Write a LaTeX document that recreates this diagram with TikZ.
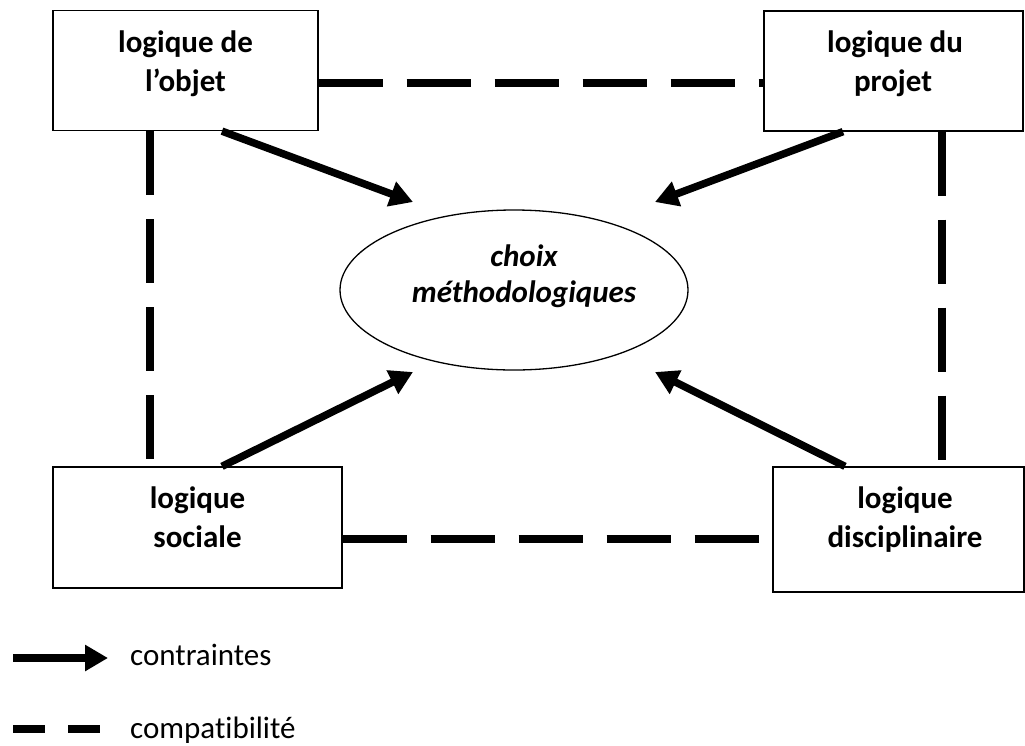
\documentclass[tikz,border=0pt]{standalone}
\usepackage{fontspec}
\setmainfont{Carlito}[Ligatures=NoCommon]
\usetikzlibrary{arrows.meta,shapes.geometric,calc}
\tikzset{
  box/.style={draw, line width=1.3pt, rectangle, inner sep=0pt},
  oval/.style={draw, line width=1.3pt, ellipse, inner sep=0pt, minimum width=348pt, minimum height=160pt},
  lbl/.style={anchor=base, inner sep=0pt, font=\fontsize{31}{37}\selectfont\bfseries},
  ilbl/.style={anchor=base, inner sep=0pt, font=\fontsize{31}{37}\selectfont\bfseries\itshape},
  leg/.style={anchor=base west, inner sep=0pt, font=\fontsize{31}{37}\selectfont},
  compat/.style={line width=7.5pt, dash pattern=on 64pt off 24pt},
  contr/.style={line width=7.5pt, -{Triangle[length=23pt,width=25pt]}}
}
\begin{document}
\begin{tikzpicture}[x=1pt,y=-1pt]
\useasboundingbox (0,0) rectangle (1025,745);
% boxes
\node[box, minimum width=265pt, minimum height=120pt] (objet) at (185.5,70.5) {};
\node[box, minimum width=259pt, minimum height=120pt] (projet) at (893.5,71) {};
\node[box, minimum width=289pt, minimum height=121pt] (sociale) at (197.5,527.5) {};
\node[box, minimum width=251pt, minimum height=125pt] (disc) at (898.5,529.5) {};
\node[oval] (choix) at (514,290) {};
% texts
\node[lbl] (o1) at (185.5,52) {logique de};
\node[lbl] (o2) at (185.5,91) {l’objet};
\node[lbl] (p1) at (895,52) {logique du};
\node[lbl] (p2) at (893,91) {projet};
\node[lbl] (s1) at (197.5,508) {logique};
\node[lbl] (s2) at (197.5,547) {sociale};
\node[lbl] (d1) at (905,508) {logique};
\node[lbl] (d2) at (905,547) {disciplinaire};
\node[ilbl] (c1) at (524,266) {choix};
\node[ilbl] (c2) at (524,302) {méthodologiques};
% compatibility (dashed)
\draw[compat] (objet.east |- 0,83) -- (projet.west |- 0,83);
\draw[compat] (sociale.east |- 0,539) -- (disc.west |- 0,539);
\draw[compat] (objet.south -| 150,0) -- (sociale.north -| 150,0);
\draw[compat] (projet.south -| 942,0) -- (disc.north -| 942,0);
% constraints (arrows)
\coordinate (t1) at (413,202);
\coordinate (t2) at (655,202);
\coordinate (t3) at (413,372);
\coordinate (t4) at (655,372);
\draw[contr] ([xshift=36.5pt]objet.south) -- (t1);
\draw[contr] ([xshift=-50.5pt]projet.south) -- (t2);
\draw[contr] ([xshift=24.5pt]sociale.north) -- (t3);
\draw[contr] ([xshift=-53.5pt]disc.north) -- (t4);
% legend
\coordinate (la1) at (13,658);
\coordinate (la2) at (108,658);
\draw[contr] (la1) -- (la2);
\node[leg] (lt1) at (130,665) {contraintes};
\coordinate (ld1) at (13,729);
\coordinate (ld2) at (100,729);
\draw[line width=7.5pt, dash pattern=on 32pt off 23pt] (ld1) -- (ld2);
\node[leg] (lt2) at (130,738) {compatibilité};
\end{tikzpicture}
\end{document}
